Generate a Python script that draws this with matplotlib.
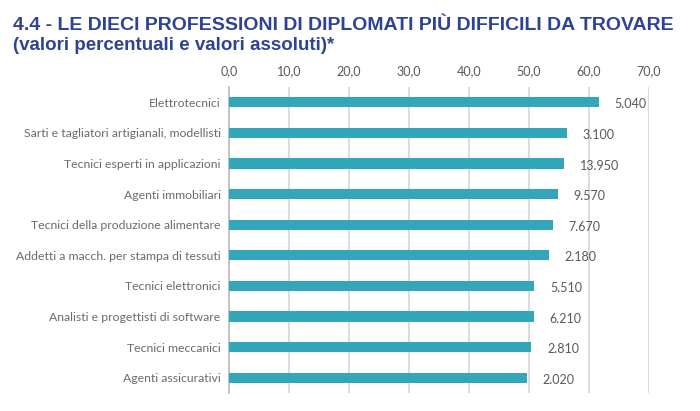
import matplotlib
matplotlib.use("Agg")
import matplotlib.pyplot as plt
from matplotlib.ticker import FuncFormatter, MultipleLocator

categorie = [
    "Elettrotecnici",
    "Sarti e tagliatori artigianali, modellisti",
    "Tecnici esperti in applicazioni",
    "Agenti immobiliari",
    "Tecnici della produzione alimentare",
    "Addetti a macch. per stampa di tessuti",
    "Tecnici elettronici",
    "Analisti e progettisti di software",
    "Tecnici meccanici",
    "Agenti assicurativi",
]
percentuali = [61.7, 56.3, 55.9, 54.8, 54.0, 53.3, 50.9, 50.8, 50.4, 49.6]
assoluti = ["5.040", "3.100", "13.950", "9.570", "7.670",
            "2.180", "5.510", "6.210", "2.810", "2.020"]

BLU = "#2f4396"
TEAL = "#33a7b9"
GRIGIO = "#595959"

fig = plt.figure(figsize=(7, 4.11), dpi=100)
ax = fig.add_axes([229 / 700, 1 - 393 / 411, 420 / 700, 306 / 411])

y = range(len(categorie))
ax.barh(y, percentuali, height=0.33, color=TEAL, zorder=3)

for i, (v, lab) in enumerate(zip(percentuali, assoluti)):
    ax.text(v + 2.6, i + 0.07, lab, va="center", ha="left",
            fontsize=9, color=GRIGIO, family="Lato")

ax.set_xlim(0, 70)
ax.set_ylim(9.5, -0.5)
ax.xaxis.set_major_locator(MultipleLocator(10))
ax.xaxis.set_major_formatter(FuncFormatter(lambda x, p: f"{x:.1f}".replace(".", ",")))
ax.xaxis.tick_top()
ax.set_yticks(list(y))
ax.set_yticklabels(categorie)
ax.tick_params(axis="x", length=0, colors=GRIGIO, labelsize=9, pad=7)
ax.tick_params(axis="y", length=0, colors="#6b6b6b", labelsize=8.8, pad=6)
for t in ax.get_xticklabels() + ax.get_yticklabels():
    t.set_family("Lato")

ax.grid(axis="x", color="#d9d9d9", linewidth=1.3, zorder=0)
for s in ["top", "right", "bottom"]:
    ax.spines[s].set_visible(False)
ax.spines["left"].set_color("#bfbfbf")
ax.spines["left"].set_linewidth(1.3)

fig.text(13 / 700, 1 - 25 / 411,
         "4.4 - LE DIECI PROFESSIONI DI DIPLOMATI PIÙ DIFFICILI DA TROVARE",
         fontsize=14, fontweight="bold", color=BLU, va="center",
         family="Liberation Sans")
fig.text(13 / 700, 1 - 45 / 411,
         "(valori percentuali e valori assoluti)*",
         fontsize=13.5, fontweight="bold", color=BLU, va="center",
         family="Liberation Sans")

fig.savefig("out.png", dpi=100)
